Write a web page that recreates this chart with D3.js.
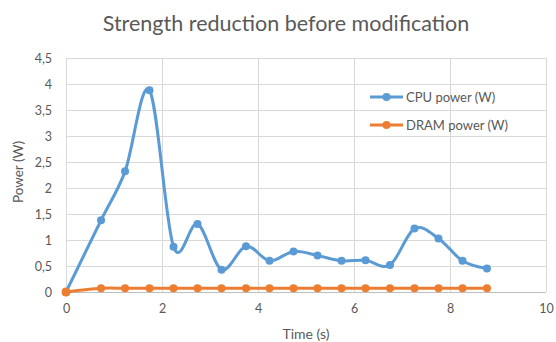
<!DOCTYPE html>
<html>
<head>
<meta charset="utf-8">
<script src="https://cdn.jsdelivr.net/npm/d3@7"></script>
<style>
  html, body { margin: 0; padding: 0; background: #fff; }
  svg { display: block; font-family: Lato, "Open Sans", sans-serif; }
</style>
</head>
<body>
<svg id="chart" width="556" height="342"></svg>
<script>
// Sample times (s)
const times = [0, 0.73, 1.23, 1.74, 2.24, 2.74, 3.24, 3.75, 4.24, 4.74, 5.24, 5.74, 6.24, 6.75, 7.26, 7.76, 8.26, 8.77];
// Measured power (W)
const cpuPower = [0, 1.38, 2.32, 3.88, 0.87, 1.31, 0.43, 0.88, 0.60, 0.78, 0.70, 0.60, 0.61, 0.52, 1.22, 1.03, 0.60, 0.45];
const dramPower = [0, 0.07, 0.07, 0.07, 0.07, 0.07, 0.07, 0.07, 0.07, 0.07, 0.07, 0.07, 0.07, 0.07, 0.07, 0.07, 0.07, 0.07];
const seriesNames = ["CPU power (W)", "DRAM power (W)"];
const seriesColors = ["#5B9BD5", "#ED7D31"];
const xTicks = [0, 2, 4, 6, 8, 10];
const yTicks = [0, 0.5, 1, 1.5, 2, 2.5, 3, 3.5, 4, 4.5];
const title = "Strength reduction before modification";
const xTitle = "Time (s)";
const yTitle = "Power (W)";

const svg = d3.select("#chart");
const plot = { left: 66, right: 546, top: 58, bottom: 292 };

const x = d3.scaleLinear().domain([0, 10]).range([plot.left, plot.right]);
const y = d3.scaleLinear().domain([0, 4.5]).range([plot.bottom, plot.top]);
const fmt = d => String(d).replace(".", ",");
const textColor = "#595959";

// Title
svg.append("text")
  .attr("x", 286).attr("y", 31)
  .attr("text-anchor", "middle")
  .attr("fill", textColor)
  .style("font-size", "21.5px")
  .text(title);

// Gridlines
svg.append("g").selectAll("line").data(yTicks).join("line")
  .attr("x1", plot.left).attr("x2", plot.right)
  .attr("y1", d => y(d) + 0.5).attr("y2", d => y(d) + 0.5)
  .attr("stroke", d => d === 0 ? "#BFBFBF" : "#D9D9D9").attr("stroke-width", 1);
svg.append("g").selectAll("line").data(xTicks).join("line")
  .attr("y1", plot.top).attr("y2", plot.bottom)
  .attr("x1", d => x(d) + 0.5).attr("x2", d => x(d) + 0.5)
  .attr("stroke", "#D9D9D9").attr("stroke-width", 1);

// Y axis labels
const yAxis = d3.axisLeft(y).tickValues(yTicks).tickFormat(fmt).tickSize(0).tickPadding(14);
const gy = svg.append("g").attr("transform", `translate(${plot.left},0)`).call(yAxis);
gy.select(".domain").remove();
gy.selectAll("text").attr("fill", textColor).style("font-size", "12.5px").style("font-family", "Lato, sans-serif");

// X axis labels
const xAxis = d3.axisBottom(x).tickValues(xTicks).tickFormat(fmt).tickSize(0).tickPadding(12);
const gx = svg.append("g").attr("transform", `translate(0,${plot.bottom})`).call(xAxis);
gx.select(".domain").remove();
gx.selectAll("text").attr("fill", textColor).style("font-size", "12.5px").style("font-family", "Lato, sans-serif");

// Axis titles
svg.append("text")
  .attr("x", 306).attr("y", 339)
  .attr("text-anchor", "middle").attr("fill", textColor)
  .style("font-size", "14px").text(xTitle);
svg.append("text")
  .attr("transform", "translate(23,172) rotate(-90)")
  .attr("text-anchor", "middle").attr("fill", textColor)
  .style("font-size", "13.5px").text(yTitle);

// Series
const seriesData = [cpuPower, dramPower].map(vals => times.map((t, i) => ({ t, v: vals[i] })));
const line = d3.line().x(d => x(d.t)).y(d => y(d.v)).curve(d3.curveCardinal.tension(0));

// DRAM first, CPU on top
[1, 0].forEach(k => {
  const g = svg.append("g");
  g.append("path").datum(seriesData[k])
    .attr("d", line).attr("fill", "none")
    .attr("stroke", seriesColors[k]).attr("stroke-width", 3)
    .attr("stroke-linejoin", "round").attr("stroke-linecap", "round");
  g.selectAll("circle").data(seriesData[k]).join("circle")
    .attr("cx", d => x(d.t)).attr("cy", d => y(d.v)).attr("r", 4)
    .attr("fill", seriesColors[k]);
});
// DRAM origin marker drawn over the CPU line
svg.append("circle").attr("cx", x(times[0])).attr("cy", y(dramPower[0])).attr("r", 4.5).attr("fill", seriesColors[1]);

// Legend
const legend = svg.append("g");
seriesNames.forEach((name, i) => {
  const ly = 97 + i * 28;
  legend.append("line").attr("x1", 370).attr("x2", 403).attr("y1", ly).attr("y2", ly)
    .attr("stroke", seriesColors[i]).attr("stroke-width", 3);
  legend.append("circle").attr("cx", 386.5).attr("cy", ly).attr("r", 4).attr("fill", seriesColors[i]);
  legend.append("text").attr("x", 406).attr("y", ly + 4.5)
    .attr("fill", textColor).style("font-size", "13px").text(name);
});
</script>
</body>
</html>
